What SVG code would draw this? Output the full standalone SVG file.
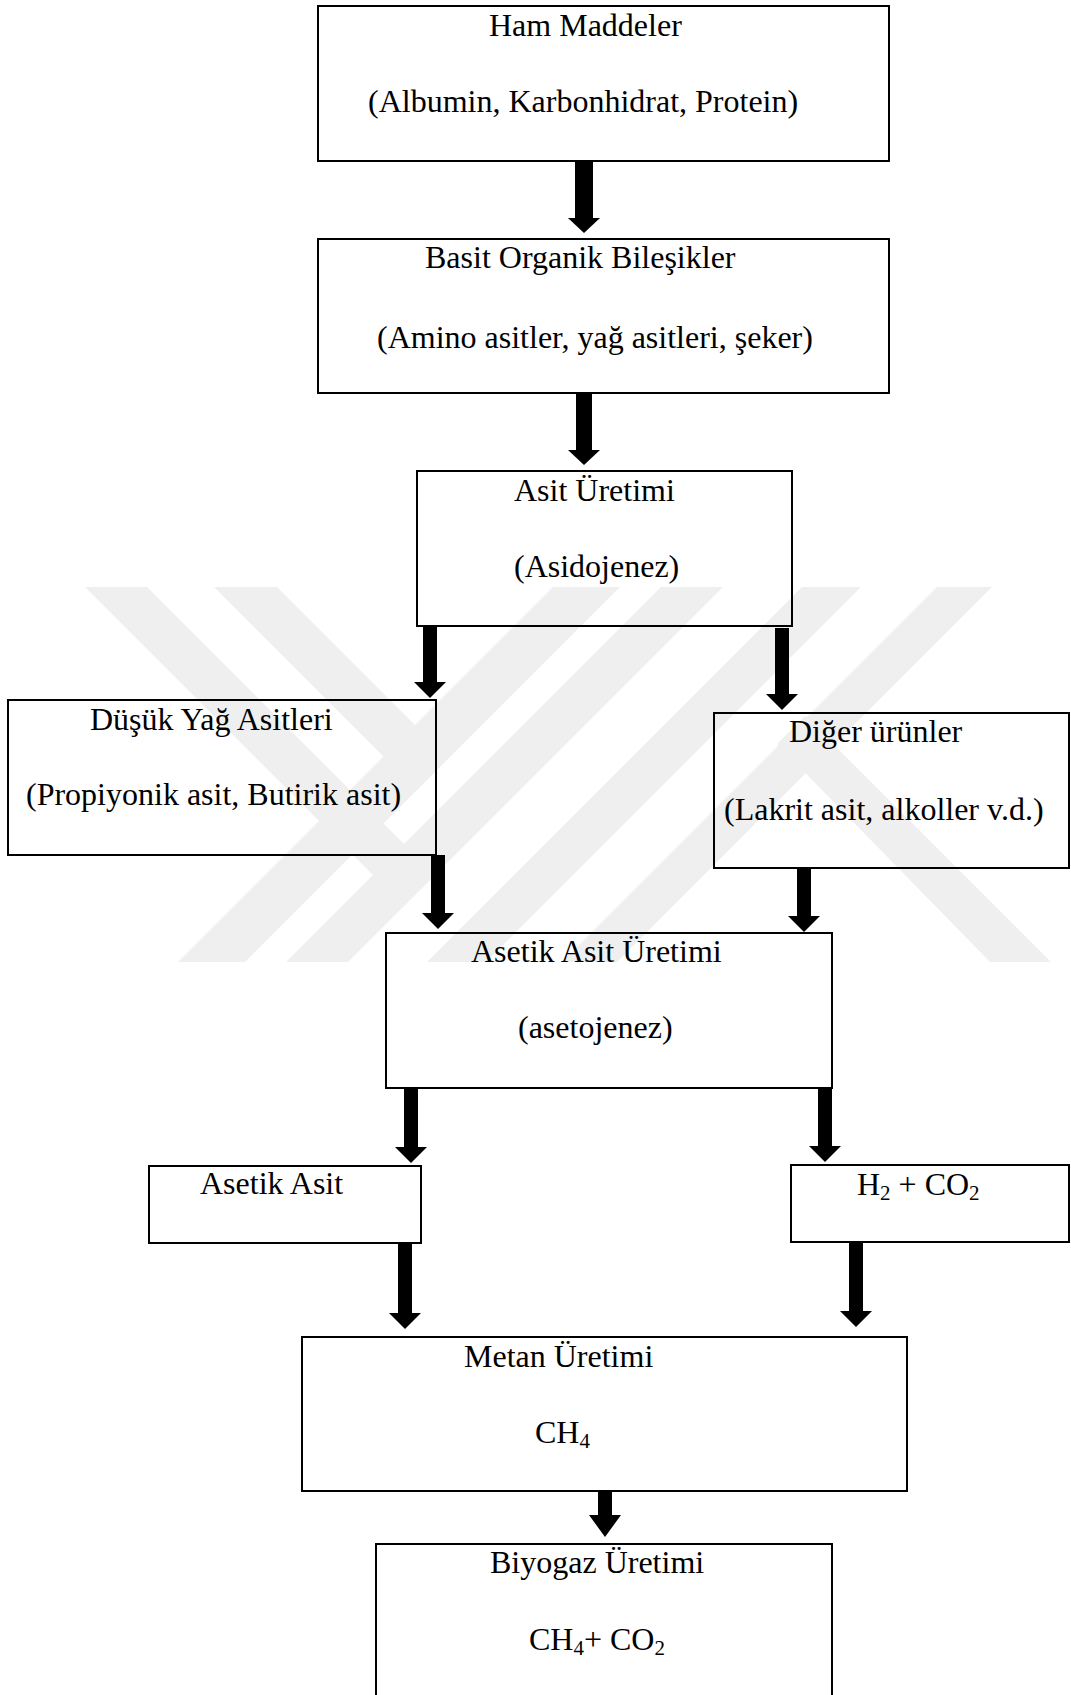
<svg xmlns="http://www.w3.org/2000/svg" width="1071" height="1695" viewBox="0 0 1071 1695">
<style>
.wm{fill:#efefef;stroke:none}
.box{fill:none;stroke:#000;stroke-width:2}
.arr{fill:#000;stroke:none}
text{font-family:"Liberation Serif","Times New Roman",serif;font-size:32px;fill:#000}
.sub{font-size:21px}
</style>
<rect x="0" y="0" width="1071" height="1695" fill="#fff"/>
<g id="watermark">
<polygon class="wm" points="553,587 620,587 245,962 178,962"/>
<polygon class="wm" points="661,587 723,587 348,962 286,962"/>
<polygon class="wm" points="802,587 861,587 486,962 427,962"/>
<polygon class="wm" points="937,587 992,587 617,962 562,962"/>
<polygon class="wm" points="85,587 147,587 435,875 404,906"/>
<polygon class="wm" points="214,587 277,587 448,758 417,790"/>
<polygon class="wm" points="777,744 805,716 1051,962 990,962"/>
</g>
<g id="connectors">
<path class="arr" d="M575,161 L593,161 L593,218 L600,218 L584,233 L568,218 L575,218 Z"/>
<path class="arr" d="M576,393 L592,393 L592,450 L600,450 L584,465 L568,450 L576,450 Z"/>
<path class="arr" d="M423,626 L437,626 L437,682 L446,682 L430,698 L414,682 L423,682 Z"/>
<path class="arr" d="M775,628 L789,628 L789,694 L798,694 L782,710 L766,694 L775,694 Z"/>
<path class="arr" d="M431,855 L445,855 L445,913 L454,913 L438,929 L422,913 L431,913 Z"/>
<path class="arr" d="M797,868 L811,868 L811,916 L820,916 L804,932 L788,916 L797,916 Z"/>
<path class="arr" d="M404,1088 L418,1088 L418,1147 L427,1147 L411,1163 L395,1147 L404,1147 Z"/>
<path class="arr" d="M818,1088 L832,1088 L832,1146 L841,1146 L825,1162 L809,1146 L818,1146 Z"/>
<path class="arr" d="M398,1243 L412,1243 L412,1313 L421,1313 L405,1329 L389,1313 L398,1313 Z"/>
<path class="arr" d="M849,1243 L863,1243 L863,1311 L872,1311 L856,1327 L840,1311 L849,1311 Z"/>
<path class="arr" d="M598,1491 L612,1491 L612,1515 L621,1515 L605,1537 L589,1515 L598,1515 Z"/>
</g>
<g id="node-ham-maddeler">
<rect class="box" x="318" y="6" width="571" height="155"/>
<text x="489" y="36">Ham Maddeler</text>
<text x="368" y="112">(Albumin, Karbonhidrat, Protein)</text>
</g>
<g id="node-basit-organik">
<rect class="box" x="318" y="239" width="571" height="154"/>
<text x="425" y="268">Basit Organik Bileşikler</text>
<text x="377" y="348">(Amino asitler, yağ asitleri, şeker)</text>
</g>
<g id="node-asit-uretimi">
<rect class="box" x="417" y="471" width="375" height="155"/>
<text x="514" y="501">Asit Üretimi</text>
<text x="514" y="577">(Asidojenez)</text>
</g>
<g id="node-dusuk-yag">
<rect class="box" x="8" y="700" width="428" height="155"/>
<text x="90" y="730">Düşük Yağ Asitleri</text>
<text x="26" y="805">(Propiyonik asit, Butirik asit)</text>
</g>
<g id="node-diger-urunler">
<rect class="box" x="714" y="713" width="355" height="155"/>
<text x="789" y="742">Diğer ürünler</text>
<text x="724" y="820">(Lakrit asit, alkoller v.d.)</text>
</g>
<g id="node-asetik-uretimi">
<rect class="box" x="386" y="933" width="446" height="155"/>
<text x="471" y="962">Asetik Asit Üretimi</text>
<text x="518" y="1038">(asetojenez)</text>
</g>
<g id="node-asetik-asit">
<rect class="box" x="149" y="1166" width="272" height="77"/>
<text x="200" y="1194">Asetik Asit</text>
</g>
<g id="node-h2-co2">
<rect class="box" x="791" y="1165" width="278" height="77"/>
<text x="857" y="1195">H<tspan class="sub" dy="5">2</tspan><tspan dy="-5"> + CO</tspan><tspan class="sub" dy="5">2</tspan></text>
</g>
<g id="node-metan">
<rect class="box" x="302" y="1337" width="605" height="154"/>
<text x="464" y="1367">Metan Üretimi</text>
<text x="535" y="1443">CH<tspan class="sub" dy="5">4</tspan></text>
</g>
<g id="node-biyogaz">
<rect class="box" x="376" y="1544" width="456" height="170"/>
<text x="490" y="1573">Biyogaz Üretimi</text>
<text x="529" y="1650">CH<tspan class="sub" dy="5">4</tspan><tspan dy="-5">+ CO</tspan><tspan class="sub" dy="5">2</tspan></text>
</g>
</svg>
